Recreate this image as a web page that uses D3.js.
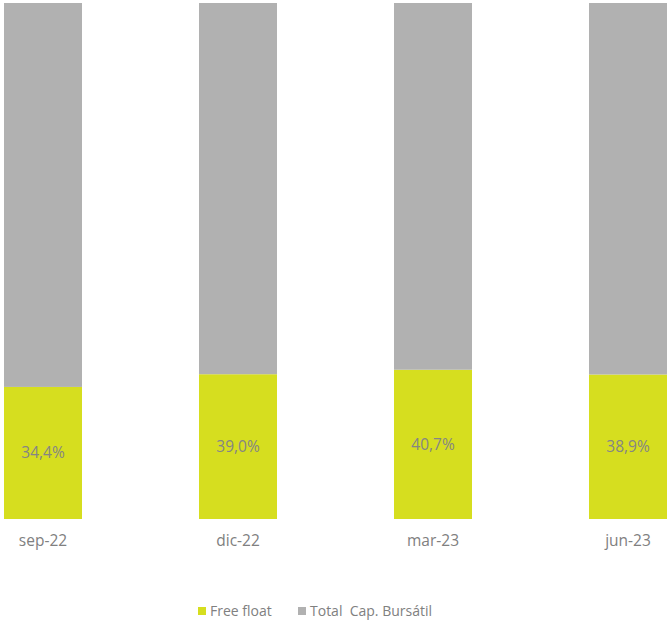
<!DOCTYPE html>
<html>
<head>
<meta charset="utf-8">
<script src="https://cdn.jsdelivr.net/npm/d3@7"></script>
<style>
  body { margin: 0; background: #fff; }
  text { font-family: "Open Sans", "Liberation Sans", sans-serif; }
</style>
</head>
<body>
<script>
/* DATA */
const periods = ["sep-22", "dic-22", "mar-23", "jun-23"];
const freeFloat = [34.4, 39.0, 40.7, 38.9];
const totalCap = [100, 100, 100, 100];
const seriesNames = ["Free float", "Total  Cap. Bursátil"];
const colors = ["#d6de1f", "#b1b1b1"];

const WIDTH = 667, HEIGHT = 621;

const rows = periods.map((p, i) => ({ period: p, ff: freeFloat[i], total: totalCap[i] }));

const stack = d3.stack()
    .keys(["ff", "total"])
    .offset(d3.stackOffsetExpand);
const stacked = stack(rows);

const svg = d3.select("body")
    .append("svg")
    .attr("width", WIDTH)
    .attr("height", HEIGHT);

const x = d3.scaleBand()
    .domain(periods)
    .range([4, 667])
    .paddingInner(0.6)
    .paddingOuter(0);

const y = d3.scaleLinear()
    .domain([0, 1])
    .range([519, 3]);

svg.selectAll("g.layer")
    .data(stacked)
    .enter()
    .append("g")
    .attr("class", "layer")
    .attr("fill", (d, i) => colors[i])
    .selectAll("rect")
    .data(d => d)
    .enter()
    .append("rect")
    .attr("x", d => x(d.data.period))
    .attr("width", x.bandwidth())
    .attr("y", d => y(d[1]))
    .attr("height", d => y(d[0]) - y(d[1]));

// value labels on free float
svg.append("g")
    .selectAll("text")
    .data(stacked[0])
    .enter()
    .append("text")
    .attr("x", d => x(d.data.period) + x.bandwidth() / 2)
    .attr("y", d => (y(d[0]) + y(d[1])) / 2)
    .attr("dy", "0.35em")
    .attr("text-anchor", "middle")
    .attr("font-size", 15.5)
    .attr("fill", "#858585")
    .text(d => d.data.ff.toFixed(1).replace(".", ",") + "%");

// x axis
const xAxis = svg.append("g")
    .attr("transform", "translate(0,519)")
    .call(d3.axisBottom(x).tickSize(0).tickPadding(16));
xAxis.select(".domain").remove();
xAxis.selectAll("text")
    .attr("font-size", 15.5)
    .attr("fill", "#808080")
    .style("font-family", "'Open Sans', 'Liberation Sans', sans-serif");

// legend
const legendX = [198, 298];
const legend = svg.append("g");
seriesNames.forEach((name, i) => {
  legend.append("rect")
      .attr("x", legendX[i])
      .attr("y", 607)
      .attr("width", 8)
      .attr("height", 8)
      .attr("fill", colors[i]);
  legend.append("text")
      .attr("x", legendX[i] + 12)
      .attr("y", 611)
      .attr("dy", "0.35em")
      .attr("font-size", 14)
      .attr("fill", "#808080")
      .attr("xml:space", "preserve")
      .style("white-space", "pre")
      .text(name);
});
</script>
</body>
</html>
